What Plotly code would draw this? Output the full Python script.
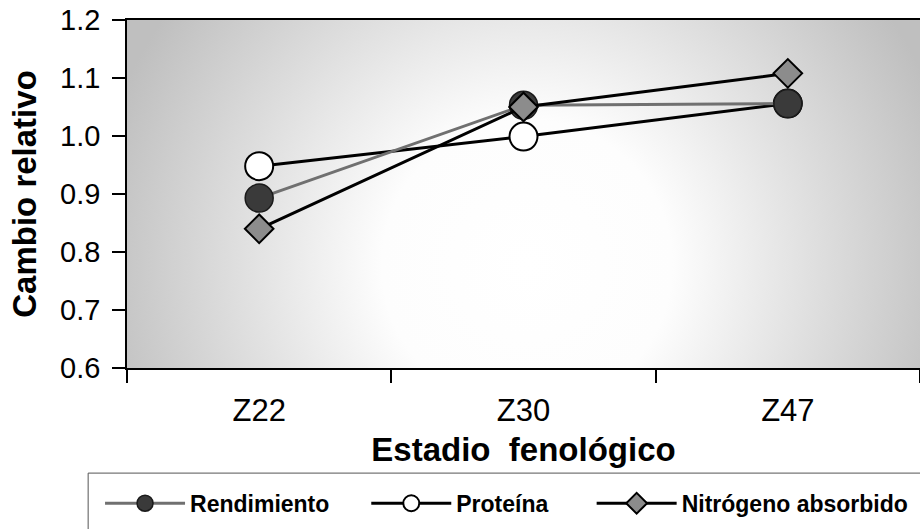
import base64
import plotly.graph_objects as go

# ---- data ----
categories = ["Z22", "Z30", "Z47"]
rendimiento = [0.893, 1.053, 1.056]
proteina = [0.948, 0.999, 1.056]
nitrogeno = [0.840, 1.050, 1.108]
y_ticks = [0.6, 0.7, 0.8, 0.9, 1.0, 1.1, 1.2]

FONT = "Liberation Sans, Arial, sans-serif"

# radial-gradient background for the plotting area (SVG image)
svg = (
    '<svg xmlns="http://www.w3.org/2000/svg" width="793" height="348" '
    'viewBox="0 0 793 348" preserveAspectRatio="none">'
    '<defs><radialGradient id="g" gradientUnits="userSpaceOnUse" cx="400" cy="245" r="440">'
    '<stop offset="0" stop-color="#ffffff"/>'
    '<stop offset="0.33" stop-color="#fdfdfd"/>'
    '<stop offset="1" stop-color="#bfbfbf"/>'
    '</radialGradient></defs>'
    '<rect x="0" y="0" width="793" height="348" fill="url(#g)"/></svg>'
)
bg_uri = "data:image/svg+xml;base64," + base64.b64encode(svg.encode()).decode()

fig = go.Figure()
fig.add_trace(go.Scatter(
    x=categories, y=proteina, name="Proteína" + "\u00a0" * 6, legendrank=2,
    mode="lines+markers",
    line=dict(color="#000000", width=3),
    marker=dict(symbol="circle", size=28, color="#ffffff",
                line=dict(color="#000000", width=2)),
))
fig.add_trace(go.Scatter(
    x=categories, y=rendimiento, name="Rendimiento" + "\u00a0" * 5, legendrank=1,
    mode="lines+markers",
    line=dict(color="#707070", width=3),
    marker=dict(symbol="circle", size=28, color="#3a3a3a",
                line=dict(color="#1a1a1a", width=1.5)),
))
fig.add_trace(go.Scatter(
    x=categories, y=nitrogeno, name="Nitrógeno absorbido", legendrank=3,
    mode="lines+markers",
    line=dict(color="#000000", width=3),
    marker=dict(symbol="diamond", size=22, color="#8c8c8c",
                line=dict(color="#000000", width=2)),
))

fig.update_layout(
    width=920, height=529,
    margin=dict(l=127, r=0, t=20, b=161, autoexpand=False),
    paper_bgcolor="#ffffff",
    plot_bgcolor="#ffffff",
    font=dict(family=FONT, color="#000000"),
    images=[dict(source=bg_uri, xref="paper", yref="paper", x=0, y=1,
                 sizex=1, sizey=1, sizing="stretch", xanchor="left",
                 yanchor="top", layer="below")],
    xaxis=dict(
        type="category", range=[-0.5, 2.5], automargin=False,
        showline=True, linecolor="#000000", linewidth=1.5, mirror=True,
        ticks="outside", tickson="boundaries", ticklen=13, tickwidth=1.5,
        tickcolor="#000000", showgrid=False, zeroline=False,
        tickfont=dict(size=31, family=FONT), ticklabelstandoff=14,
        title=dict(text="Estadio\u00a0\u00a0fenológico",
                   font=dict(size=33, family=FONT, weight="bold"), standoff=11),
    ),
    yaxis=dict(
        range=[0.6, 1.2], tickvals=y_ticks, tickformat=".1f", automargin=False,
        showline=True, linecolor="#000000", linewidth=1.5,
        ticks="outside", ticklen=13, tickwidth=1.5, tickcolor="#000000",
        showgrid=False, zeroline=False,
        tickfont=dict(size=29, family=FONT), ticklabelstandoff=6,
        title=dict(text="Cambio relativo",
                   font=dict(size=33, family=FONT, weight="bold"), standoff=14),
    ),
    showlegend=True,
    legend=dict(
        orientation="h", x=-0.034, xanchor="left", y=-0.327, yanchor="top",
        font=dict(size=23, family=FONT, weight="bold", color="#000000"),
        itemwidth=80, bgcolor="rgba(0,0,0,0)", borderwidth=0,
        itemsizing="trace",
    ),
    shapes=[dict(type="rect", xref="paper", yref="paper",
                 x0=-0.049, x1=1.05, y0=-0.6, y1=-0.302,
                 line=dict(color="#555555", width=1), fillcolor="rgba(0,0,0,0)",
                 layer="below")],
)

fig.write_html("out.html", config={"displayModeBar": False},
               post_script="document.body.style.margin='0';")
